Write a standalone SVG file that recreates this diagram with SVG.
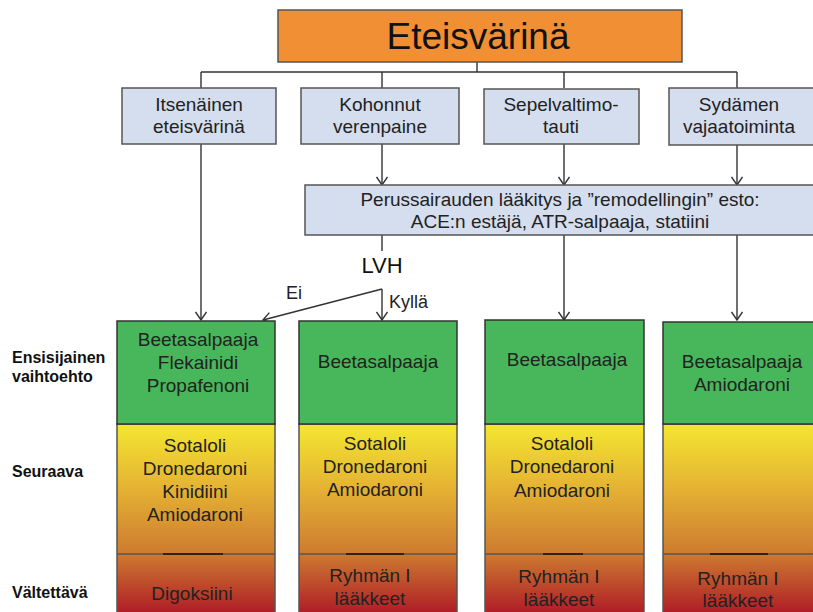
<svg xmlns="http://www.w3.org/2000/svg" width="813" height="612" viewBox="0 0 813 612">
<defs>
<style>
.t{font-family:"Liberation Sans",Arial,sans-serif;fill:#222;text-anchor:middle;font-size:19px}
.lab{font-family:"Liberation Sans",Arial,sans-serif;fill:#111;font-weight:bold;font-size:16px}
.bx{fill:#D5DEEE;stroke:#555;stroke-width:1.5}
.gr{fill:#48B65B;stroke:#333;stroke-width:1.5}
.grad{fill:url(#g);stroke:#555;stroke-width:1.5}
.ln{fill:none;stroke:#333;stroke-width:1.4}
.dv{stroke:#555;stroke-width:1.5}
.dk{stroke:#111;stroke-width:1.6}
</style>
<linearGradient id="g" gradientUnits="userSpaceOnUse" x1="0" y1="424" x2="0" y2="612">
<stop offset="0" stop-color="#F4E731"/>
<stop offset="0.35" stop-color="#E4B133"/>
<stop offset="0.69" stop-color="#CD7B30"/>
<stop offset="1" stop-color="#B01E27"/>
</linearGradient>
<marker id="a" viewBox="0 0 10 12" refX="9" refY="6" markerWidth="10" markerHeight="12" markerUnits="userSpaceOnUse" orient="auto">
<path d="M1,0.5 L9,6 L1,11.5" fill="none" stroke="#333" stroke-width="1.4"/>
</marker>
</defs>

<g id="connectors">
<path class="ln" d="M477,62 V72 M201,72 H737 M201,72 V88 M382,72 V88 M564,72 V88 M737,72 V88"/>
<path class="ln" d="M201,144 V320" marker-end="url(#a)"/>
<path class="ln" d="M382,144 V185" marker-end="url(#a)"/>
<path class="ln" d="M564,144 V185" marker-end="url(#a)"/>
<path class="ln" d="M737,144 V185" marker-end="url(#a)"/>
<path class="ln" d="M382,235 V251"/>
<path class="ln" d="M382,289 V320" marker-end="url(#a)"/>
<path class="ln" d="M382,289 L263,320" marker-end="url(#a)"/>
<path class="ln" d="M564,235 V320" marker-end="url(#a)"/>
<path class="ln" d="M737,235 V320" marker-end="url(#a)"/>
<text class="t" x="294" y="299" style="font-size:18px">Ei</text>
<text class="t" x="389" y="308" style="font-size:18px;text-anchor:start">Kyllä</text>
</g>

<g id="title">
<rect x="278" y="10" width="404" height="52" fill="#F08F33" stroke="#555" stroke-width="1.5"/>
<text class="t" x="478" y="49" style="font-size:37px;fill:#111">Eteisvärinä</text>
</g>

<g id="b1">
<rect class="bx" x="122" y="88" width="154" height="56"/>
<text class="t" x="199" y="111">Itsenäinen</text>
<text class="t" x="199" y="133">eteisvärinä</text>
</g>
<g id="b2">
<rect class="bx" x="301" y="88" width="158" height="56"/>
<text class="t" x="380" y="111">Kohonnut</text>
<text class="t" x="380" y="133">verenpaine</text>
</g>
<g id="b3">
<rect class="bx" x="484" y="89" width="155" height="55"/>
<text class="t" x="561" y="111">Sepelvaltimo-</text>
<text class="t" x="561" y="133">tauti</text>
</g>
<g id="b4">
<rect class="bx" x="669" y="88" width="150" height="57"/>
<text class="t" x="739" y="111">Sydämen</text>
<text class="t" x="739" y="133">vajaatoiminta</text>
</g>

<g id="perus">
<rect class="bx" x="305" y="185" width="515" height="50"/>
<text class="t" x="560" y="206">Perussairauden lääkitys ja ”remodellingin” esto:</text>
<text class="t" x="560" y="228">ACE:n estäjä, ATR-salpaaja, statiini</text>
</g>

<g id="lvh">
<text class="t" x="382" y="273" style="font-size:22px;fill:#111">LVH</text>
</g>

<g id="labels">
<text class="lab" x="12" y="363">Ensisijainen</text>
<text class="lab" x="12" y="382">vaihtoehto</text>
<text class="lab" x="12" y="477">Seuraava</text>
<text class="lab" x="12" y="598">Vältettävä</text>
</g>

<g id="col1">
<rect class="grad" x="117" y="424" width="158" height="192"/>
<rect class="gr" x="117" y="321" width="158" height="103"/>
<line class="dv" x1="117" y1="554" x2="275" y2="554"/>
<line class="dk" x1="163" y1="554" x2="223" y2="554"/>
<text class="t" x="198" y="346">Beetasalpaaja</text>
<text class="t" x="198" y="369">Flekainidi</text>
<text class="t" x="198" y="392">Propafenoni</text>
<text class="t" x="195" y="452">Sotaloli</text>
<text class="t" x="195" y="475">Dronedaroni</text>
<text class="t" x="195" y="498">Kinidiini</text>
<text class="t" x="195" y="521">Amiodaroni</text>
<text class="t" x="192" y="600">Digoksiini</text>
</g>

<g id="col2">
<rect class="grad" x="299" y="424" width="158" height="192"/>
<rect class="gr" x="299" y="321" width="158" height="103"/>
<line class="dv" x1="299" y1="554" x2="457" y2="554"/>
<line class="dk" x1="346" y1="554" x2="404" y2="554"/>
<text class="t" x="378" y="368">Beetasalpaaja</text>
<text class="t" x="375" y="450">Sotaloli</text>
<text class="t" x="375" y="473">Dronedaroni</text>
<text class="t" x="375" y="496">Amiodaroni</text>
<text class="t" x="370" y="582">Ryhmän I</text>
<text class="t" x="370" y="605">lääkkeet</text>
</g>

<g id="col3">
<rect class="grad" x="485" y="424" width="159" height="192"/>
<rect class="gr" x="485" y="320" width="159" height="104"/>
<line class="dv" x1="485" y1="554" x2="644" y2="554"/>
<line class="dk" x1="543" y1="554" x2="583" y2="554"/>
<text class="t" x="567" y="366">Beetasalpaaja</text>
<text class="t" x="562" y="450">Sotaloli</text>
<text class="t" x="562" y="473">Dronedaroni</text>
<text class="t" x="562" y="497">Amiodaroni</text>
<text class="t" x="559" y="583">Ryhmän I</text>
<text class="t" x="559" y="606">lääkkeet</text>
</g>

<g id="col4">
<rect class="grad" x="663" y="424" width="160" height="192"/>
<rect class="gr" x="663" y="322" width="160" height="102"/>
<line class="dv" x1="663" y1="554" x2="823" y2="554"/>
<line class="dk" x1="710" y1="554" x2="768" y2="554"/>
<text class="t" x="742" y="368">Beetasalpaaja</text>
<text class="t" x="742" y="391">Amiodaroni</text>
<text class="t" x="738" y="585">Ryhmän I</text>
<text class="t" x="738" y="607">lääkkeet</text>
</g>
</svg>
